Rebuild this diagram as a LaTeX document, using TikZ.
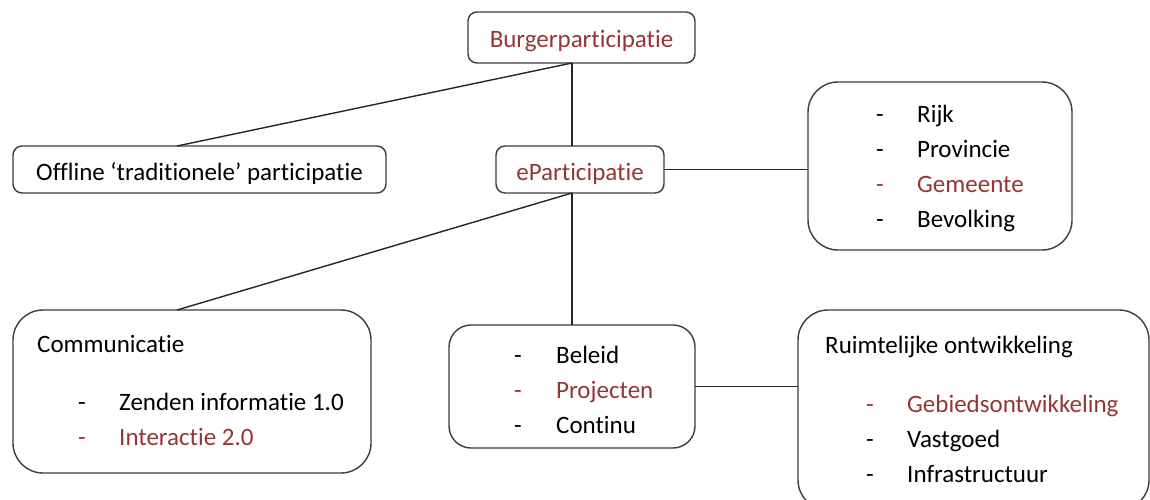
\documentclass[tikz,border=0pt]{standalone}
\usepackage{fontspec}
\setmainfont{Carlito}[Ligatures={NoCommon}]
\definecolor{accent}{HTML}{943634}
\definecolor{frame}{HTML}{3C3C3C}
\begin{document}
\begin{tikzpicture}[x=1pt,y=-1pt,
  box/.style={draw=frame,line width=1.4pt,inner sep=0pt,outer sep=0pt,anchor=north west},
  smallbox/.style={box,rounded corners=9pt},
  bigbox/.style={box,rounded corners=30pt},
  midbox/.style={box,rounded corners=22pt},
  link/.style={line width=1.4pt,black!85},
  txt/.style={anchor=base west,inner sep=0pt,font=\fontsize{25}{30}\selectfont},
  hitxt/.style={txt,text=accent},
  bullet/.style={txt,anchor=base}]
\useasboundingbox (0,0) rectangle (1150,499);
\begin{scope}
\clip (0,0) rectangle (1150,499);

% boxes
\node[smallbox,minimum width=227pt,minimum height=51pt] (burger) at (468,12) {};
\node[smallbox,minimum width=168pt,minimum height=47pt] (epart) at (496,146) {};
\node[smallbox,minimum width=373pt,minimum height=47pt] (offline) at (13,146) {};
\node[bigbox,minimum width=264pt,minimum height=168pt] (levels) at (808,82) {};
\node[bigbox,minimum width=358pt,minimum height=163pt] (comm) at (13,310) {};
\node[midbox,minimum width=246pt,minimum height=123pt] (kind) at (449,325) {};
\node[bigbox,minimum width=351pt,minimum height=200pt] (ruimte) at (798,310) {};

% attachment columns
\coordinate (spine) at (572,0);
\coordinate (leftfoot) at (177,0);

% connectors
\draw[link] (burger.south -| spine) -- (epart.north -| spine);
\draw[link] (burger.south -| spine) -- (offline.north -| leftfoot);
\draw[link] (epart.south -| spine) -- (comm.north -| leftfoot);
\draw[link] (epart.south -| spine) -- (kind.north -| spine);
\draw[link] (epart.east) -- (levels.west |- epart.east);
\draw[link] (kind.east) -- (ruimte.west |- kind.east);

% single-line labels
\node[txt,text=accent,anchor=base] (tburger) at (burger.center |- 0,47) {Burgerparticipatie};
\node[txt,text=accent,anchor=base] (tepart) at (epart.center |- 0,180) {eParticipatie};
\node[txt,anchor=base] (toffline) at (offline.center |- 0,180) {Offline ‘traditionele’ participatie};

% government levels
\node[bullet] (d1) at (880,122) {-};
\node[txt] (l1) at (917,122) {Rijk};
\node[bullet] (d2) at (880,157) {-};
\node[txt] (l2) at (917,157) {Provincie};
\node[bullet,text=accent] (d3) at (880,192) {-};
\node[hitxt] (l3) at (917,192) {Gemeente};
\node[bullet] (d4) at (880,227) {-};
\node[txt] (l4) at (917,227) {Bevolking};

% communication
\node[txt] (ct) at (37,352) {Communicatie};
\node[bullet] (cd1) at (82,410) {-};
\node[txt] (c1) at (119,410) {Zenden informatie 1.0};
\node[bullet,text=accent] (cd2) at (82,445) {-};
\node[hitxt] (c2) at (119,445) {Interactie 2.0};

% kind of participation
\node[bullet] (kd1) at (518,363) {-};
\node[txt] (k1) at (556,363) {Beleid};
\node[bullet,text=accent] (kd2) at (518,398) {-};
\node[hitxt] (k2) at (556,398) {Projecten};
\node[bullet] (kd3) at (518,433) {-};
\node[txt] (k3) at (556,433) {Continu};

% spatial development
\node[txt] (rt) at (825,353) {Ruimtelijke ontwikkeling};
\node[bullet,text=accent] (rd1) at (870,412) {-};
\node[hitxt] (r1) at (907,412) {Gebiedsontwikkeling};
\node[bullet] (rd2) at (870,447) {-};
\node[txt] (r2) at (907,447) {Vastgoed};
\node[bullet] (rd3) at (870,482) {-};
\node[txt] (r3) at (907,482) {Infrastructuur};
\end{scope}
\end{tikzpicture}
\end{document}
